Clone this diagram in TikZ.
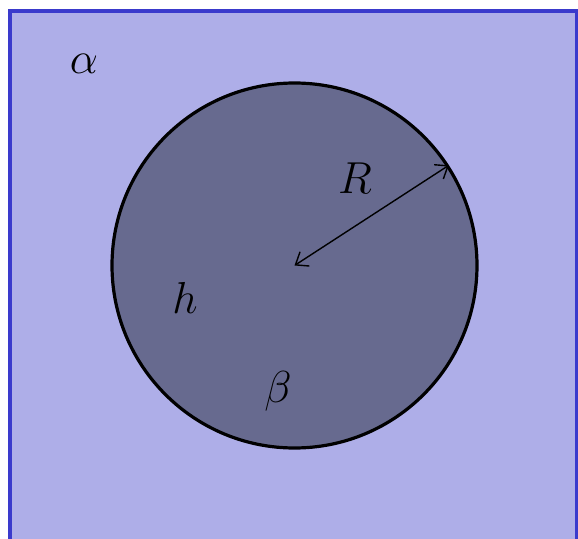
\documentclass[tikz,border=0pt]{standalone}
\usepackage{tikz}
\usetikzlibrary{arrows.meta}
\definecolor{phasea}{RGB}{174,174,232}
\definecolor{phaseb}{RGB}{103,106,143}
\definecolor{edgeblue}{RGB}{58,58,204}

\begin{document}
\begin{tikzpicture}[x=1pt, y=-1pt,
        region/.style = {draw=edgeblue, fill=phasea, line width=3.2pt},
        drop/.style = {circle, draw=black, fill=phaseb, line width=3.2pt, minimum size=365pt, inner sep=0pt},
        sym/.style = {font=\Huge, scale=1.8, inner sep=0pt},
        arrow/.style = {{Straight Barb[length=11pt, width=17pt]}-{Straight Barb[length=11pt, width=17pt]}, line width=1.4pt}
    ]
        \useasboundingbox (0,0) rectangle (578,538);

        % phase alpha
        \draw [region] (10,11) rectangle (577,570);

        % drop of phase beta
        \node (drop) [drop] at (294.5,265.5) {};

        \node (alpha) [sym] at (84,64) {$\alpha$};
        \node (rad) [sym] at (355,178) {$R$};
        \node (hh) [sym] at (185,298) {$h$};
        \node (beta) [sym] at (278,391) {$\beta$};

        \draw [arrow] (drop.center) -- (drop.33);

    \end{tikzpicture}
\end{document}
